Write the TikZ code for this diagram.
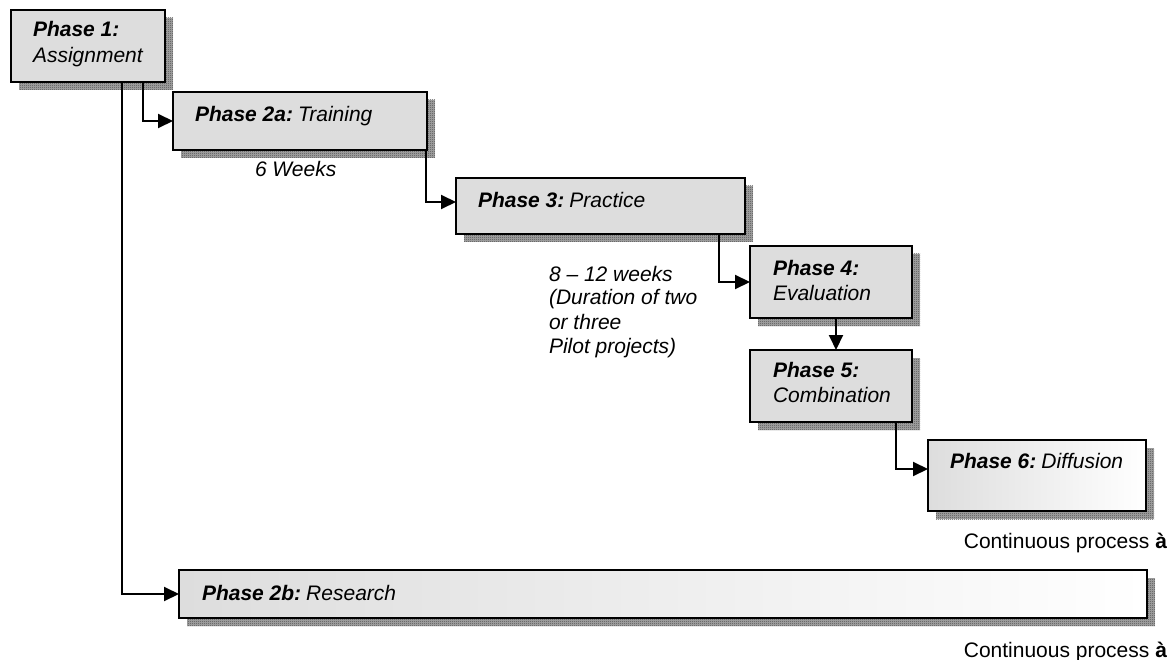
\documentclass[tikz,border=0pt]{standalone}
\usepackage{fontspec}
\setmainfont{Liberation Sans}
\usetikzlibrary{arrows.meta,shadows,patterns,calc}

% checkerboard used for the halftone drop shadows
\pgfdeclarepatternformonly{checker}{\pgfqpoint{0pt}{0pt}}{\pgfqpoint{2pt}{2pt}}{\pgfqpoint{2pt}{2pt}}{%
  \pgfpathrectangle{\pgfqpoint{0pt}{0pt}}{\pgfqpoint{1pt}{1pt}}%
  \pgfpathrectangle{\pgfqpoint{1pt}{1pt}}{\pgfqpoint{1pt}{1pt}}%
  \pgfusepath{fill}}

\definecolor{boxfill}{RGB}{221,221,221}
\newcommand{\labelgap}{\hspace{0.24em}}

\tikzset{
  phasebox/.style={draw=black, line width=2.2pt, rectangle, anchor=north west,
    inner sep=0pt, outer sep=0pt,
    drop shadow={shadow xshift=8pt, shadow yshift=-8pt, opacity=1,
      fill=black!35, postaction={pattern=checker, pattern color=black!70}}},
  solidbox/.style={phasebox, fill=boxfill},
  fadebox/.style={phasebox, left color=boxfill, right color=white},
  txt/.style={anchor=base west, inner sep=0pt, outer sep=0pt,
    font=\fontsize{21}{24}\selectfont\itshape},
  plain/.style={anchor=base east, inner sep=0pt, outer sep=0pt,
    font=\fontsize{21}{24}\selectfont},
  arr/.style={line width=2pt, -{Triangle[length=15pt, width=14pt]}},
}

\begin{document}
\begin{tikzpicture}[x=1pt, y=-1pt]
  \useasboundingbox (0,0) rectangle (1172,660);

  % phase boxes
  \node[solidbox, minimum width=154pt, minimum height=72pt] (p1)  at (11,10) {};
  \node[solidbox, minimum width=254pt, minimum height=58pt] (p2a) at (173,92) {};
  \node[solidbox, minimum width=289pt, minimum height=56pt] (p3)  at (456,178) {};
  \node[solidbox, minimum width=162pt, minimum height=72pt] (p4)  at (750,246) {};
  \node[solidbox, minimum width=162pt, minimum height=72pt] (p5)  at (750,350) {};
  \node[fadebox,  minimum width=218pt, minimum height=71pt] (p6)  at (928,440) {};
  \node[fadebox,  minimum width=968pt, minimum height=48pt] (p2b) at (179,570) {};

  % box captions
  \node[txt] (t1a) at (33,37) {\textbf{Phase 1:}};
  \node[txt] (t1b) at (33,63) {Assignment};
  \node[txt] (t2a) at (195,122) {\textbf{Phase 2a:}\labelgap Training};
  \node[txt] (t3)  at (478,208) {\textbf{Phase 3:}\labelgap Practice};
  \node[txt] (t4a) at (773,276) {\textbf{Phase 4:}};
  \node[txt] (t4b) at (773,300) {Evaluation};
  \node[txt] (t5a) at (773,377) {\textbf{Phase 5:}};
  \node[txt] (t5b) at (773,402) {Combination};
  \node[txt] (t6)  at (950,468) {\textbf{Phase 6:}\labelgap Diffusion};
  \node[txt] (t2b) at (202,600) {\textbf{Phase 2b:}\labelgap Research};

  % durations
  \node[txt] (d2a) at (255,177) {6 Weeks};
  \node[txt] (d3a) at (549,281) {8 – 12 weeks};
  \node[txt] (d3b) at (549,305) {(Duration of two};
  \node[txt] (d3c) at (549,329) {or three};
  \node[txt] (d3d) at (549,353) {Pilot projects)};

  \node[plain] (c1) at (1167,548) {Continuous process \textbf{à}};
  \node[plain] (c2) at (1167,657) {Continuous process \textbf{à}};

  % connectors
  \draw[arr] ($(p1.south west)+(111,0)$) |- (p2b.west);
  \draw[arr] ($(p1.south west)+(132,0)$) |- (p2a.west);
  \draw[arr] ($(p2a.south east)+(-1,0)$) |- ($(p3.north west)+(0,24)$);
  \draw[arr] ($(p3.south east)+(-26,0)$) |- (p4.west);
  \draw[arr] ($(p4.south)+(5,0)$) -- ($(p5.north)+(5,0)$);
  \draw[arr] ($(p5.south east)+(-16,0)$) |- ($(p6.north west)+(0,29)$);
\end{tikzpicture}
\end{document}
